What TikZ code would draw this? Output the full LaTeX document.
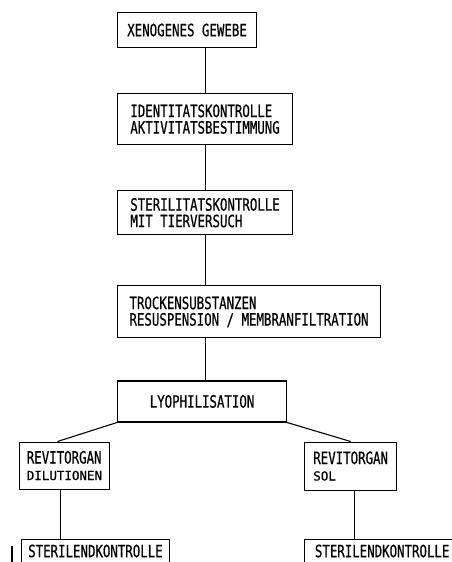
\documentclass[tikz,border=0pt]{standalone}
\usepackage{fontspec}
\newfontfamily\plotfont[FakeStretch=0.73,FakeBold=0.6]{DejaVu Sans Mono}
\newfontfamily\plotsmall[FakeBold=0.6]{DejaVu Sans Mono}
\newcommand\boxfont{\plotfont\fontsize{17}{16.5}\selectfont}
\newcommand\subfont{\plotsmall\fontsize{12.5}{14}\selectfont}
\usetikzlibrary{positioning}

\begin{document}
\begin{tikzpicture}[
    x=1pt, y=1pt,
    node distance=45pt,
    box/.style={draw, line width=1.1pt, inner xsep=6pt, align=left, font=\boxfont},
    link/.style={line width=1.1pt}
]
\useasboundingbox (0,0) rectangle (452,-562);

% Main column
\node[box, anchor=north west, minimum width=139pt, minimum height=35pt] (gewebe) at (117,-12) {XENOGENES GEWEBE};
\node[box, below=45pt of gewebe.south west, anchor=north west, minimum width=175pt, minimum height=51pt] (ident) {IDENTITATSKONTROLLE\\AKTIVITATSBESTIMMUNG};
\node[box, below=45pt of ident.south west, anchor=north west, minimum width=175pt, minimum height=44pt] (steril) {STERILITATSKONTROLLE\\MIT TIERVERSUCH};
\node[box, below=50pt of steril.south west, anchor=north west, minimum width=263pt, minimum height=52pt] (trocken) {TROCKENSUBSTANZEN\\RESUSPENSION / MEMBRANFILTRATION};
\node[box, below=42pt of trocken.south west, anchor=north west, minimum width=169pt, minimum height=41pt, align=center] (lyo) {LYOPHILISATION};

% Branches
\node[box, below left=19pt and 7pt of lyo.south west, minimum width=90pt, minimum height=47pt] (dil) {REVITORGAN\\{\subfont DILUTIONEN}};
\node[box, below right=19pt and 17pt of lyo.south east, minimum width=92pt, minimum height=48pt] (sol) {REVITORGAN\\{\subfont SOL}};

% End controls
\node[box, below=49pt of dil.south west, anchor=north west, xshift=2pt, minimum width=148pt, minimum height=40pt] (endl) {STERILENDKONTROLLE\\ };
\node[box, below=48pt of sol.south west, anchor=north west, minimum width=155pt, minimum height=40pt] (endr) {STERILENDKONTROLLE\\ };

% Connectors
\draw[link] (gewebe.south -| ident.north) -- (ident.north);
\draw[link] (ident.south) -- (steril.north);
\draw[link] (steril.south) -- (steril.south |- trocken.north);
\draw[link] (trocken.south -| steril.south) -- (lyo.north -| steril.south);
\draw[link] (lyo.south west) -- ([xshift=-7pt]dil.north);
\draw[link] (lyo.south east) -- (sol.north);
\draw[link] ([xshift=-4pt]dil.south) -- ([xshift=-4pt]dil.south |- endl.north);
\draw[link] ([xshift=4pt]sol.south) -- ([xshift=4pt]sol.south |- endr.north);

% margin mark
\draw[link] (12,-546) -- (12,-562);

\end{tikzpicture}
\end{document}
